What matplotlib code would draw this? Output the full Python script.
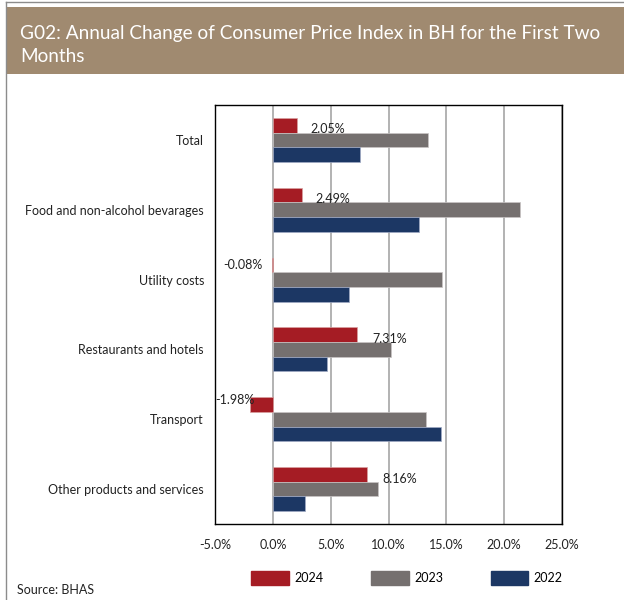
import numpy as np
import matplotlib
matplotlib.use("Agg")
import matplotlib.pyplot as plt
import matplotlib.ticker as mtick
from matplotlib.patches import Rectangle, Patch
from matplotlib.lines import Line2D

# data
categories = ["Total", "Food and non-alcohol bevarages", "Utility costs",
              "Restaurants and hotels", "Transport", "Other products and services"]
v2024 = [2.05, 2.49, -0.08, 7.31, -1.98, 8.16]
v2023 = [13.45, 21.4, 14.6, 10.25, 13.2, 9.05]
v2022 = [7.5, 12.6, 6.55, 4.65, 14.5, 2.75]
labels_2024 = ["2.05%", "2.49%", "-0.08%", "7.31%", "-1.98%", "8.16%"]
xticks = [-5, 0, 5, 10, 15, 20, 25]

plt.rcParams['font.family'] = ['Lato', 'DejaVu Sans']

fig = plt.figure(figsize=(6.24, 6.0), dpi=100)

# header band and frame
fig.patches.append(Rectangle((7 / 624, 1 - 74 / 600), 1, 67 / 600, transform=fig.transFigure,
                             facecolor="#A08A70", edgecolor="none", zorder=0))
fig.add_artist(Line2D([6 / 624, 6 / 624], [0, 1 - 1.5 / 600], transform=fig.transFigure,
                      color="#8c8c8c", linewidth=1))
fig.add_artist(Line2D([6 / 624, 1], [1 - 1.5 / 600, 1 - 1.5 / 600], transform=fig.transFigure,
                      color="#8c8c8c", linewidth=1))
fig.text(20 / 624, 1 - 25 / 600, "G02: Annual Change of Consumer Price Index in BH for the First Two\nMonths",
         color="white", fontsize=13.7, ha="left", va="top", linespacing=1.45)

ax = fig.add_axes([215 / 624, 1 - 524 / 600, 347 / 624, 419 / 600])

y = np.arange(len(categories))
h = 0.21
ax.barh(y - h, v2024, height=h, color="#A51C24", edgecolor="#d9a0a0", linewidth=0.5, label="2024", zorder=3)
ax.barh(y, v2023, height=h, color="#75706F", edgecolor="#c9c5c5", linewidth=0.5, label="2023", zorder=3)
ax.barh(y + h, v2022, height=h, color="#1C3764", edgecolor="#a0aac4", linewidth=0.5, label="2022", zorder=3)

# data labels for 2024
offsets = [(10, -3), (10, -3), (-7, 0), (11, -3), (3, 3), (11, -3)]
for i, (v, lab) in enumerate(zip(v2024, labels_2024)):
    dx, dy = offsets[i]
    ax.annotate(lab, (v, y[i] - h), xytext=(dx, dy), textcoords="offset points",
                ha="left" if dx > 5 else "right", va="center", fontsize=9, color="#222222", zorder=4)

ax.set_xlim(-5, 25)
ax.set_ylim(len(categories) - 0.5, -0.5)
ax.set_xticks(xticks)
ax.xaxis.set_major_formatter(mtick.FuncFormatter(lambda v, p: f"{v:.1f}%"))
ax.set_yticks(y)
ax.set_yticklabels(categories)
ax.tick_params(length=0, labelsize=9, colors="#222222")
ax.tick_params(axis="x", pad=11)
ax.tick_params(axis="y", pad=8)
ax.grid(axis="x", color="#a6a6a6", linewidth=1.2, zorder=0)
for s in ax.spines.values():
    s.set_color("black")
    s.set_linewidth(1)

handles = [Patch(color="#A51C24"), Patch(color="#75706F"), Patch(color="#1C3764")]
fig.legend(handles, ["2024", "2023", "2022"], loc="center", bbox_to_anchor=(407 / 624, 1 - 578 / 600),
           ncol=3, frameon=False, fontsize=9, handlelength=3.0, handleheight=1.25,
           columnspacing=3.8, handletextpad=0.45)

fig.text(17 / 624, 1 - 590 / 600, "Source: BHAS", fontsize=9, color="#222222", va="center")

fig.savefig("out.png", dpi=100)
